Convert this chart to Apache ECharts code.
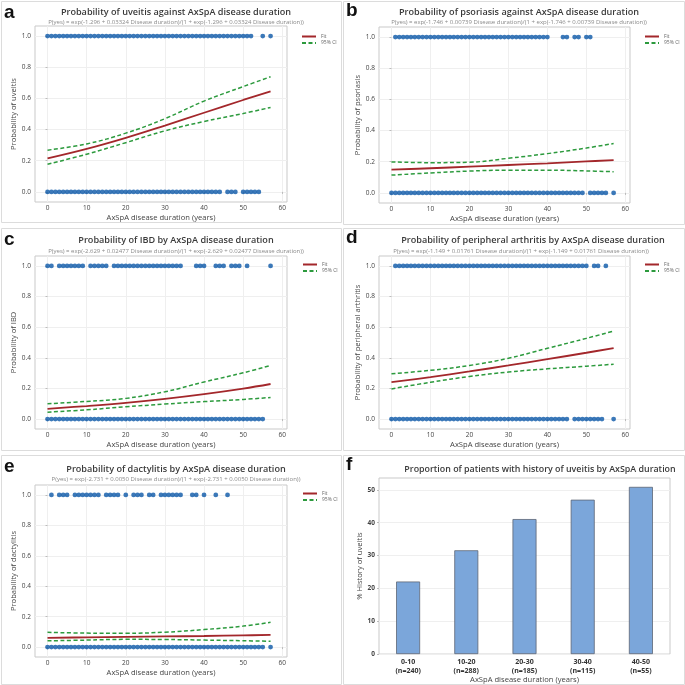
<!DOCTYPE html>
<html><head><meta charset="utf-8">
<script src="https://cdn.jsdelivr.net/npm/echarts@6/dist/echarts.min.js"></script>
<style>html,body{margin:0;padding:0;background:#fff}#c{width:685px;height:685px}</style>
</head><body><div id="c"></div>
<script>
// ---------- data ----------
const durX = [0, 10, 20, 30, 40, 50, 57];
const xTickVals = [0, 10, 20, 30, 40, 50, 60];
const yTickVals = [0, 0.2, 0.4, 0.6, 0.8, 1.0];

// runs of disease-duration years (inclusive) where observations appear
const uveitisYes = [[0,52],[55,55],[57,57]];
const uveitisNo  = [[0,44],[46,48],[50,54]];
const uveitisFit   = [0.215,0.276,0.347,0.426,0.508,0.590,0.645];
const uveitisUpper = [0.268,0.308,0.377,0.470,0.583,0.676,0.739];
const uveitisLower = [0.177,0.242,0.316,0.392,0.452,0.503,0.542];

const psoriasisYes = [[1,40],[44,45],[47,48],[50,51]];
const psoriasisNo  = [[0,49],[51,55],[57,57]];
const psoriasisFit   = [0.149,0.158,0.168,0.179,0.190,0.202,0.210];
const psoriasisUpper = [0.199,0.194,0.197,0.222,0.252,0.288,0.317];
const psoriasisLower = [0.114,0.128,0.140,0.146,0.146,0.141,0.136];

const ibdYes = [[0,1],[3,9],[11,15],[17,34],[38,40],[43,45],[47,49],[51,51],[57,57]];
const ibdNo  = [[0,55]];
const ibdFit   = [0.067,0.085,0.106,0.132,0.163,0.199,0.229];
const ibdUpper = [0.100,0.115,0.135,0.178,0.242,0.302,0.350];
const ibdLower = [0.045,0.060,0.080,0.098,0.114,0.128,0.141];

const arthritisYes = [[1,50],[52,53],[55,55]];
const arthritisNo  = [[0,45],[47,54],[57,57]];
const arthritisFit   = [0.241,0.274,0.311,0.350,0.391,0.433,0.464];
const arthritisUpper = [0.296,0.318,0.350,0.397,0.462,0.527,0.575];
const arthritisLower = [0.197,0.240,0.278,0.307,0.328,0.345,0.358];

const dactylitisYes = [[1,1],[3,5],[7,13],[15,18],[20,20],[22,24],[26,27],[29,34],[37,38],[40,40],[43,43],[46,46]];
const dactylitisNo  = [[0,55],[57,57]];
const dactylitisFit   = [0.061,0.064,0.067,0.070,0.073,0.077,0.080];
const dactylitisUpper = [0.097,0.092,0.091,0.098,0.115,0.138,0.163];
const dactylitisLower = [0.041,0.046,0.051,0.050,0.046,0.042,0.038];

const uveitisBins = ['0-10','10-20','20-30','30-40','40-50'];
const uveitisBinN = [240, 288, 185, 115, 55];
const uveitisPct  = [22.1, 31.6, 41.1, 47.0, 50.9];
const pctTickVals = [0, 10, 20, 30, 40, 50];

// ---------- layout / styles ----------
const FONT = 'Open Sans';
const panels = [
  {letter:'a', yes:uveitisYes, no:uveitisNo, fit:uveitisFit, up:uveitisUpper, lo:uveitisLower,
   title:'Probability of uveitis against AxSpA disease duration',
   sub:'P(yes) = exp(-1.296 + 0.03324 Disease duration)/(1 + exp(-1.296 + 0.03324 Disease duration))',
   yname:'Probability of uveitis',
   box:[1,1,340,221], grid:[35,26,252,176], tc:171, ty:10, sc:171, sy:18, lg:[296,29]},
  {letter:'b', yes:psoriasisYes, no:psoriasisNo, fit:psoriasisFit, up:psoriasisUpper, lo:psoriasisLower,
   title:'Probability of psoriasis against AxSpA disease duration',
   sub:'P(yes) = exp(-1.746 + 0.00739 Disease duration)/(1 + exp(-1.746 + 0.00739 Disease duration))',
   yname:'Probability of psoriasis',
   box:[343,1,341,223], grid:[379,27,251,176], tc:514, ty:10, sc:514, sy:18, lg:[639,29]},
  {letter:'c', yes:ibdYes, no:ibdNo, fit:ibdFit, up:ibdUpper, lo:ibdLower,
   title:'Probability of IBD by AxSpA disease duration',
   sub:'P(yes) = exp(-2.629 + 0.02477 Disease duration)/(1 + exp(-2.629 + 0.02477 Disease duration))',
   yname:'Probability of IBD',
   box:[1,228,340,222], grid:[35,256,252,173], tc:171, ty:238, sc:171, sy:247, lg:[297,257]},
  {letter:'d', yes:arthritisYes, no:arthritisNo, fit:arthritisFit, up:arthritisUpper, lo:arthritisLower,
   title:'Probability of peripheral arthritis by AxSpA disease duration',
   sub:'P(yes) = exp(-1.149 + 0.01761 Disease duration)/(1 + exp(-1.149 + 0.01761 Disease duration))',
   yname:'Probability of peripheral arthritis',
   box:[343,228,341,222], grid:[379,256,251,173], tc:528, ty:238, sc:516, sy:247, lg:[639,257]},
  {letter:'e', yes:dactylitisYes, no:dactylitisNo, fit:dactylitisFit, up:dactylitisUpper, lo:dactylitisLower,
   title:'Probability of dactylitis by AxSpA disease duration',
   sub:'P(yes) = exp(-2.731 + 0.0050 Disease duration)/(1 + exp(-2.731 + 0.0050 Disease duration))',
   yname:'Probability of dactylitis',
   box:[1,455,340,229], grid:[35,485,252,172], tc:171, ty:467, sc:171, sy:475, lg:[297,486]}
];
const fPanel = {letter:'f', box:[343,455,341,229], grid:[379,478,291,179], tc:535, ty:467,
  title:'Proportion of patients with history of uveitis by AxSpA duration'};

function expand(runs){ const out=[]; runs.forEach(([a,b])=>{ for(let x=a;x<=b;x++) out.push(x); }); return out; }
function zip(xs, ys){ return xs.map((x,i)=>[x, ys[i]]); }

const grids=[], xAxes=[], yAxes=[], series=[], titles=[], legends=[], graphics=[];
const txt = '#3a3a3a';

panels.concat([fPanel]).forEach(p=>{
  graphics.push({type:'rect', shape:{x:p.box[0]+0.5,y:p.box[1]+0.5,width:p.box[2],height:p.box[3]},
    style:{fill:'none', stroke:'#dcdcdc', lineWidth:1}, z:-1});
  graphics.push({type:'text', left:p.box[0]+3, top:p.box[1]+(p.letter==='a'||p.letter==='c'||p.letter==='e'?2:0),
    style:{text:p.letter, font:'bold 19px "Liberation Sans", Arial', fill:'#111'}});
  titles.push({text:p.title, left:p.tc, top:p.ty-7, textAlign:'center',
    textStyle:{fontFamily:FONT, fontSize:p.letter==='f'?8.9:9.1, fontWeight:600, color:txt}});
});

panels.forEach((p,i)=>{
  grids.push({left:p.grid[0], top:p.grid[1], width:p.grid[2], height:p.grid[3], show:true,
    borderColor:'#c9c9c9', borderWidth:1, backgroundColor:'#fff'});
  titles.push({text:p.sub, left:p.sc, top:p.sy-4, textAlign:'center',
    textStyle:{fontFamily:FONT, fontSize:6, fontWeight:'normal', color:'#8a8a8a'}});
  xAxes.push({type:'value', gridIndex:i, min:-3.2, max:61.2,
    name:'AxSpA disease duration (years)', nameLocation:'middle', nameGap:12,
    nameTextStyle:{fontFamily:FONT, fontSize:7.6, color:'#444'},
    axisLine:{show:false}, axisTick:{show:true, length:2, lineStyle:{color:'#bbb'}, customValues:xTickVals},
    axisLabel:{customValues:xTickVals, fontFamily:FONT, fontSize:6.5, color:'#444', margin:3},
    splitLine:{show:true, lineStyle:{color:'#efefef', width:1}}});
  yAxes.push({type:'value', gridIndex:i, min:-0.065, max:1.065,
    name:p.yname, nameLocation:'middle', nameGap:17, nameRotate:90,
    nameTextStyle:{fontFamily:FONT, fontSize:7.6, color:'#444'},
    axisLine:{show:false}, axisTick:{show:true, length:2, lineStyle:{color:'#bbb'}, customValues:yTickVals},
    axisLabel:{customValues:yTickVals, formatter:v=>v.toFixed(1), fontFamily:FONT, fontSize:6.5, color:'#444', margin:4},
    splitLine:{show:true, lineStyle:{color:'#efefef', width:1}}});
  const pts = expand(p.yes).map(x=>[x,1]).concat(expand(p.no).map(x=>[x,0]));
  series.push({type:'scatter', name:'obs', xAxisIndex:i, yAxisIndex:i, data:pts, symbolSize:4.8,
    itemStyle:{color:'#0b57a8'}, silent:true, z:3});
  series.push({type:'line', name:'95% CI', xAxisIndex:i, yAxisIndex:i, data:zip(durX,p.up), smooth:0.4,
    symbol:'none', lineStyle:{color:'#2c9a3d', width:1.5, type:[4,2.5]}, itemStyle:{color:'#2c9a3d'}, z:4, silent:true});
  series.push({type:'line', name:'95% CI', xAxisIndex:i, yAxisIndex:i, data:zip(durX,p.lo), smooth:0.4,
    symbol:'none', lineStyle:{color:'#2c9a3d', width:1.5, type:[4,2.5]}, itemStyle:{color:'#2c9a3d'}, z:4, silent:true});
  series.push({type:'line', name:'Fit', xAxisIndex:i, yAxisIndex:i, data:zip(durX,p.fit), smooth:0.4,
    symbol:'none', lineStyle:{color:'#a3272b', width:1.8}, itemStyle:{color:'#a3272b'}, z:5, silent:true});
  legends.push({data:['Fit','95% CI'], left:p.lg[0], top:p.lg[1], orient:'vertical',
    itemWidth:14, itemHeight:6, itemGap:1.5, selectedMode:false,
    itemStyle:{opacity:0},
    textStyle:{fontFamily:FONT, fontSize:5, color:'#666', width:17, align:'right'}});
});

// panel f
const fi = panels.length;
grids.push({left:fPanel.grid[0], top:fPanel.grid[1], width:fPanel.grid[2], height:fPanel.grid[3], show:true,
  borderColor:'#c9c9c9', borderWidth:1, backgroundColor:'#fff'});
xAxes.push({type:'category', gridIndex:fi, data:uveitisBins.map((b,k)=>b+'\n(n='+uveitisBinN[k]+')'),
  name:'AxSpA disease duration (years)', nameLocation:'middle', nameGap:21,
  nameTextStyle:{fontFamily:FONT, fontSize:7.6, color:'#444'},
  axisLine:{show:false}, axisTick:{show:false},
  axisLabel:{fontFamily:FONT, fontSize:7, fontWeight:'bold', color:'#333', margin:3, lineHeight:9},
  splitLine:{show:false}});
yAxes.push({type:'value', gridIndex:fi, min:0, max:53.6,
  name:'% History of uveitis', nameLocation:'middle', nameGap:15, nameRotate:90,
  nameTextStyle:{fontFamily:FONT, fontSize:7.6, color:'#444'},
  axisLine:{show:false}, axisTick:{show:true, length:2, lineStyle:{color:'#bbb'}, customValues:pctTickVals},
  axisLabel:{customValues:pctTickVals, fontFamily:FONT, fontSize:6.5, fontWeight:'bold', color:'#444', margin:4},
  splitLine:{show:true, lineStyle:{color:'#efefef'}}});
series.push({type:'bar', name:'pct', xAxisIndex:fi, yAxisIndex:fi, data:uveitisPct, barWidth:24,
  itemStyle:{color:'#7ba6da', borderColor:'#5d6675', borderWidth:0.8}, silent:true});

const chart = echarts.init(document.getElementById('c'), null, {renderer:'canvas'});
chart.setOption({
  animation:false, backgroundColor:'#fff',
  title:titles, legend:legends, grid:grids, xAxis:xAxes, yAxis:yAxes, series:series,
  graphic:graphics
});
</script></body></html>
